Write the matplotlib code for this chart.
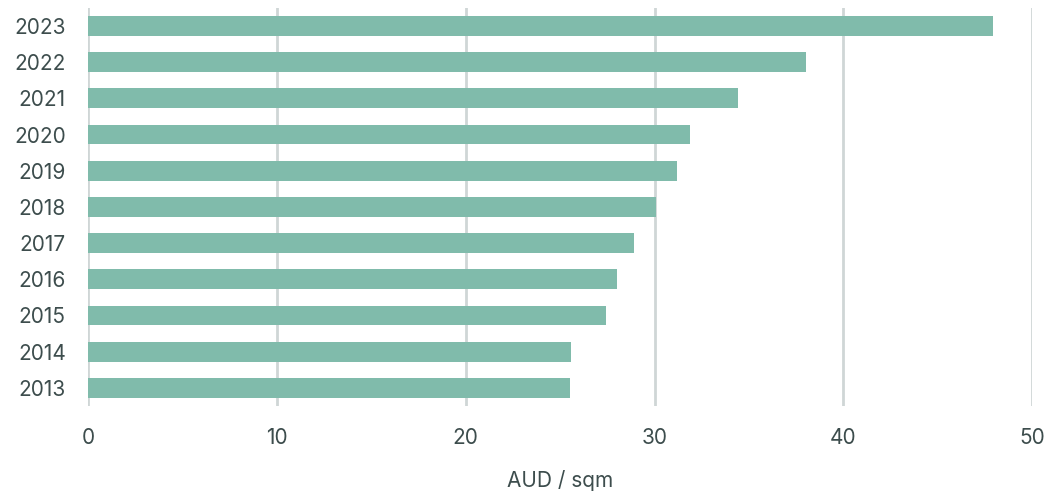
import matplotlib.pyplot as plt

years = ['2013', '2014', '2015', '2016', '2017', '2018', '2019', '2020', '2021', '2022', '2023']
values = [25.5, 25.6, 27.45, 28.0, 28.9, 30.1, 31.2, 31.9, 34.4, 38.0, 47.9]
xticks = [0, 10, 20, 30, 40, 50]

bar_color = '#80bbab'
grid_color = '#cfd6d6'
text_color = '#3d4d4d'

plt.rcParams['font.family'] = ['Inter', 'DejaVu Sans']

fig = plt.figure(figsize=(10.48, 4.95), dpi=100)
ax = fig.add_axes([0.084, 0.18, 0.901, 0.804])

ax.barh(range(len(years)), values, height=0.55, color=bar_color, zorder=3)

ax.set_xlim(0, 50)
ax.set_ylim(-0.5, len(years) - 0.5)
ax.set_xticks(xticks)
ax.set_yticks(range(len(years)))
ax.set_yticklabels(years)
ax.grid(axis='x', color=grid_color, linewidth=2, zorder=0)
ax.grid(axis='y', visible=False)
for s in ax.spines.values():
    s.set_visible(False)
ax.tick_params(length=0, labelsize=15, labelcolor=text_color)
ax.tick_params(axis='x', pad=16)
ax.tick_params(axis='y', pad=16)
ax.set_xlabel('AUD / sqm', fontsize=15, color=text_color, labelpad=16)

fig.savefig('out.png', dpi=100)
